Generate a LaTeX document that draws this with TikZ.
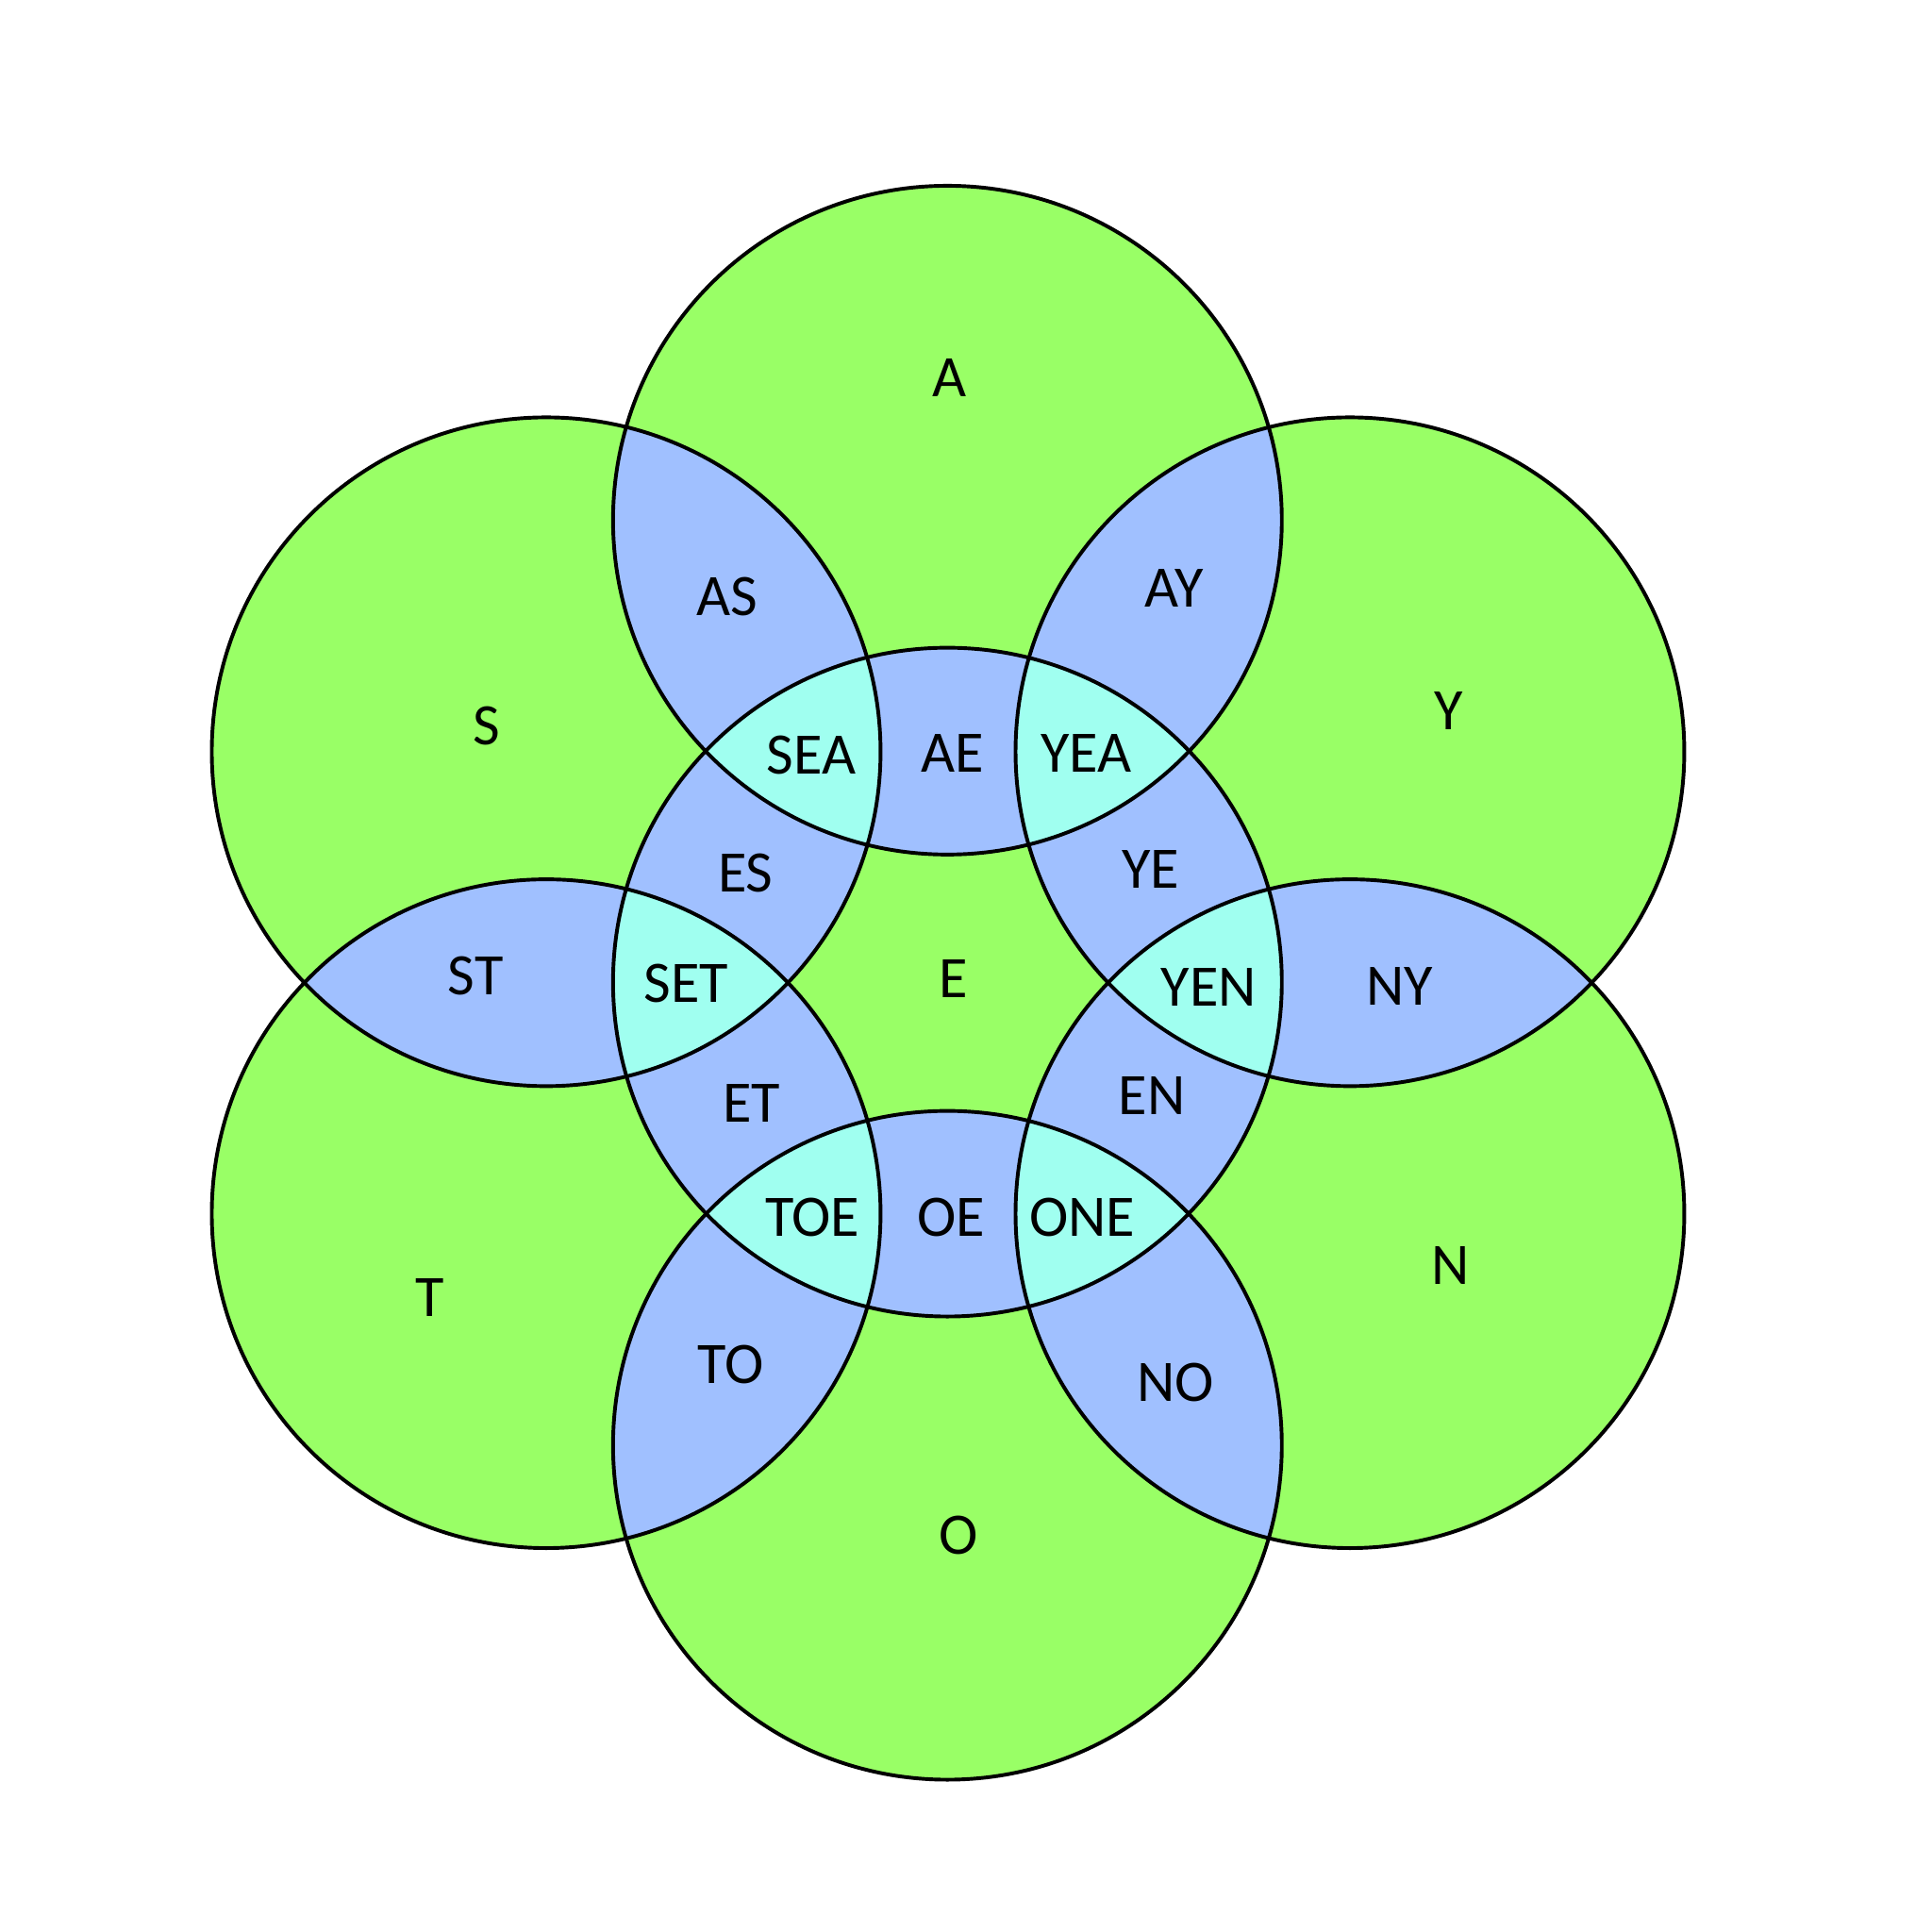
\documentclass[tikz,border=0pt]{standalone}
\usepackage{fontspec}
\setmainfont{Carlito}
\definecolor{gr}{HTML}{99FF66}
\definecolor{bl}{HTML}{A0C0FF}
\definecolor{cy}{HTML}{A0FFF0}
\begin{document}
\begin{tikzpicture}[x=0.01cm,y=-0.01cm,lab/.style={font=\fontsize{13.5}{15}\selectfont,inner sep=0pt}]
\useasboundingbox (0,0) rectangle (1560,1560);
\def\R{270}
\coordinate (E) at (765,793);
\coordinate (A) at (765,420);
\coordinate (O) at (765,1167);
\coordinate (S) at (441,607);
\coordinate (Y) at (1090,607);
\coordinate (T) at (441,980);
\coordinate (N) at (1090,980);
\foreach \c in {E,A,O,S,Y,T,N} \fill[gr] (\c) circle (\R);
\foreach \p/\q in {A/S,A/Y,Y/N,N/O,O/T,T/S,E/A,E/O,E/S,E/Y,E/T,E/N}{
  \begin{scope}\clip (\p) circle (\R); \fill[bl] (\q) circle (\R);\end{scope}}
\foreach \p/\q in {A/S,A/Y,Y/N,N/O,O/T,T/S}{
  \begin{scope}\clip (E) circle (\R); \clip (\p) circle (\R); \fill[cy] (\q) circle (\R);\end{scope}}
\foreach \c in {E,A,O,S,Y,T,N} \draw[line width=0.85pt] (\c) circle (\R);
\foreach \n/\x/\y in {A/767/305,S/393/586,Y/1170/574,T/347/1048,N/1171/1022,O/774/1240,E/770/790,
AS/587/482,AY/948/475,AE/769/608,SEA/655/610,YEA/877/608,ES/602/705,YE/929/702,ST/384/788,SET/554/794,YEN/976/797,NY/1130/796,ET/607/891,EN/930/885,TOE/656/983,OE/768/983,ONE/874/983,TO/590/1102,NO/949/1116}
  \node[lab] (l\n) at (\x,\y) {\n};
\end{tikzpicture}
\end{document}
